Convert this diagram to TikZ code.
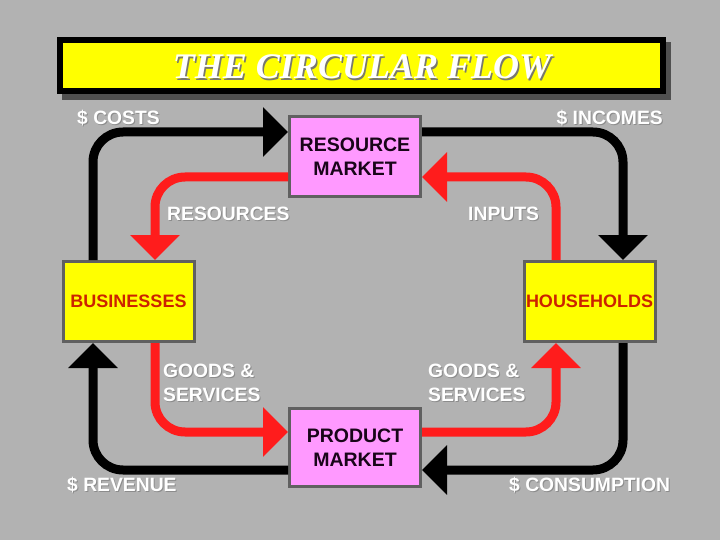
\documentclass[tikz,border=0pt]{standalone}
\usepackage{fontspec}
\setmainfont{Liberation Sans}
\newfontfamily\titlefont{Liberation Serif}
\usetikzlibrary{arrows.meta}
\definecolor{bg}{RGB}{178,178,178}
\definecolor{flowred}{RGB}{255,28,28}
\definecolor{boxpink}{RGB}{255,153,255}
\definecolor{boxyellow}{RGB}{255,255,0}
\definecolor{boxedge}{RGB}{96,96,96}
\definecolor{agentred}{RGB}{204,34,0}
\definecolor{frameshadow}{RGB}{80,80,80}
\definecolor{lshade}{RGB}{140,140,140}
\definecolor{tshade}{RGB}{120,120,110}
\definecolor{boxtext}{RGB}{25,5,25}
\begin{document}
\begin{tikzpicture}[x=1pt,y=-1pt,
  box/.style={draw=boxedge,line width=3pt,minimum width=131pt,minimum height=80pt,inner sep=0pt,align=center,text=boxtext,font=\fontsize{19.5}{24.5}\selectfont\bfseries},
  market/.style={box,fill=boxpink},
  agent/.style={box,fill=boxyellow,text=agentred,font=\fontsize{18}{22}\selectfont\bfseries},
  money/.style={line width=9pt,color=black,rounded corners=30pt,-{Triangle[length=25pt,width=48pt]}},
  goods/.style={money,color=flowred},
  lbl/.style={text=white,font=\fontsize{19.3}{24}\selectfont\bfseries,inner sep=0pt,align=left},
  lblsh/.style={lbl,text=lshade},
  ttl/.style={font=\titlefont\bfseries\itshape\fontsize{36}{40}\selectfont,inner sep=0pt}]
\fill[bg] (0,0) rectangle (720,540);
\useasboundingbox (0,0) rectangle (720,540);
% title
\fill[frameshadow] (62,42) rectangle (671,100);
\node[draw=black,line width=6pt,fill=boxyellow,minimum width=603pt,minimum height=51pt,inner sep=0pt] (title) at (361.5,65.5) {};
\node[ttl,text=tshade] (titlesh) at (363.5,68.5) {THE CIRCULAR FLOW};
\node[ttl,text=white] (titletext) at (362,67) {THE CIRCULAR FLOW};
% boxes
\node[market] (rm) at (355,156.5) {RESOURCE\\MARKET};
\node[market,minimum height=78pt] (pm) at (355,447.5) {PRODUCT\\MARKET};
\node[agent] (bus) at (128.5,301.5) {BUSINESSES};
\node[agent] (hh) at (589.5,301.5) {HOUSEHOLDS};
% corners
\coordinate (k1) at (93,132);
\coordinate (k2) at (623,132);
\coordinate (k3) at (623,470);
\coordinate (k4) at (93,470);
\coordinate (r1) at (155,177);
\coordinate (r2) at (556,177);
\coordinate (r3) at (556,432);
\coordinate (r4) at (155,432);
% money flows
\draw[money] (bus.north -| k1) -- (k1) -- (rm.west |- k1);
\draw[money] (rm.east |- k2) -- (k2) -- (hh.north -| k2);
\draw[money] (hh.south -| k3) -- (k3) -- (pm.east |- k3);
\draw[money] (pm.west |- k4) -- (k4) -- (bus.south -| k4);
% real flows
\draw[goods] (rm.west |- r1) -- (r1) -- (bus.north -| r1);
\draw[goods] (hh.north -| r2) -- (r2) -- (rm.east |- r2);
\draw[goods] (bus.south -| r4) -- (r4) -- (pm.west |- r4);
\draw[goods] (pm.east |- r3) -- (r3) -- (hh.south -| r3);
% labels
\node[lblsh,anchor=west] (costsh) at (78,119) {\$ COSTS};
\node[lbl,anchor=west] (costs) at (77,118) {\$ COSTS};
\node[lblsh,anchor=east] (incsh) at (664,119) {\$ INCOMES};
\node[lbl,anchor=east] (inc) at (663,118) {\$ INCOMES};
\node[lblsh,anchor=west] (ressh) at (168,215) {RESOURCES};
\node[lbl,anchor=west] (res) at (167,214) {RESOURCES};
\node[lblsh,anchor=west] (inpsh) at (469,215) {INPUTS};
\node[lbl,anchor=west] (inp) at (468,214) {INPUTS};
\node[lblsh,anchor=west] (gs1sh) at (164,384) {GOODS \&\\SERVICES};
\node[lbl,anchor=west] (gs1) at (163,383) {GOODS \&\\SERVICES};
\node[lblsh,anchor=west] (gs2sh) at (429,384) {GOODS \&\\SERVICES};
\node[lbl,anchor=west] (gs2) at (428,383) {GOODS \&\\SERVICES};
\node[lblsh,anchor=west] (revsh) at (68,486) {\$ REVENUE};
\node[lbl,anchor=west] (rev) at (67,485) {\$ REVENUE};
\node[lblsh,anchor=west] (consh) at (510,486) {\$ CONSUMPTION};
\node[lbl,anchor=west] (con) at (509,485) {\$ CONSUMPTION};
\end{tikzpicture}
\end{document}
